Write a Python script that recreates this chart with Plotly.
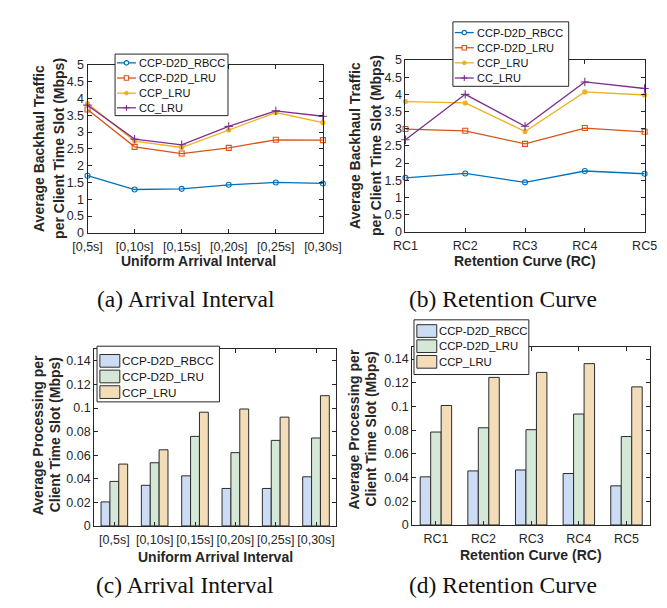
import plotly.graph_objects as go

W, H = 667, 608

# ---------------- data ----------------
interval_labels = ["[0,5s]", "[0,10s]", "[0,15s]", "[0,20s]", "[0,25s]", "[0,30s]"]
rc_labels = ["RC1", "RC2", "RC3", "RC4", "RC5"]

line_series = ["CCP-D2D_RBCC", "CCP-D2D_LRU", "CCP_LRU", "CC_LRU"]
bar_series = ["CCP-D2D_RBCC", "CCP-D2D_LRU", "CCP_LRU"]

# (a) backhaul vs arrival interval
a_rbcc = [1.70, 1.29, 1.31, 1.43, 1.50, 1.47]
a_d2d_lru = [3.67, 2.56, 2.36, 2.53, 2.77, 2.76]
a_ccp_lru = [3.85, 2.73, 2.54, 3.06, 3.58, 3.28]
a_cc_lru = [3.80, 2.79, 2.62, 3.17, 3.63, 3.47]

# (b) backhaul vs retention curve
b_rbcc = [1.57, 1.70, 1.44, 1.77, 1.69]
b_d2d_lru = [2.99, 2.94, 2.56, 3.02, 2.91]
b_ccp_lru = [3.79, 3.75, 2.92, 4.07, 3.98]
b_cc_lru = [2.68, 4.00, 3.07, 4.36, 4.17]

# (c) processing vs arrival interval
c_rbcc = [0.0204, 0.0345, 0.0425, 0.0318, 0.0318, 0.0417]
c_d2d_lru = [0.0378, 0.0536, 0.0760, 0.0622, 0.0726, 0.0746]
c_ccp_lru = [0.0525, 0.0646, 0.0965, 0.0992, 0.0923, 0.1105]

# (d) processing vs retention curve
d_rbcc = [0.0406, 0.0456, 0.0464, 0.0434, 0.0330]
d_d2d_lru = [0.0784, 0.0820, 0.0804, 0.0936, 0.0746]
d_ccp_lru = [0.1008, 0.1245, 0.1287, 0.1361, 0.1165]

backhaul_ticks = [0, 0.5, 1, 1.5, 2, 2.5, 3, 3.5, 4, 4.5, 5]
backhaul_ticktext = ["0", "0.5", "1", "1.5", "2", "2.5", "3", "3.5", "4", "4.5", "5"]
proc_ticks = [0, 0.02, 0.04, 0.06, 0.08, 0.1, 0.12, 0.14]
proc_ticktext = ["0", "0.02", "0.04", "0.06", "0.08", "0.1", "0.12", "0.14"]

# ---------------- styles ----------------
line_colors = ["#0072BD", "#D95319", "#EDB120", "#7E2F8E"]
line_symbols = ["circle-open", "square-open", "circle", "cross-thin-open"]
line_msize = [5, 5, 4, 6]
bar_colors = ["#cbdcf4", "#d5e8d8", "#f3ddb9"]
AX = "#262626"
TICKFONT = dict(family="Liberation Sans, Arial", size=12.5, color=AX)
TITLEFONT = dict(family="Liberation Sans, Arial", size=14, color=AX)
LEGFONT = dict(family="Liberation Sans, Arial", size=11, color="#111111")


def px_x(p):
    return p / W


def px_y(p):
    return 1 - p / H


fig = go.Figure()


def add_lines(series_vals, xaxis, yaxis):
    for i, (name, vals) in enumerate(zip(line_series, series_vals)):
        fig.add_trace(go.Scatter(
            x=list(range(len(vals))), y=vals, name=name, mode="lines+markers",
            line=dict(color=line_colors[i], width=1.3),
            marker=dict(symbol=line_symbols[i], size=line_msize[i], color=line_colors[i],
                        line=dict(color=line_colors[i], width=1.1)),
            xaxis=xaxis, yaxis=yaxis, cliponaxis=False, showlegend=False,
        ))


add_lines([a_rbcc, a_d2d_lru, a_ccp_lru, a_cc_lru], "x", "y")
add_lines([b_rbcc, b_d2d_lru, b_ccp_lru, b_cc_lru], "x2", "y2")


def add_bars(series_vals, xaxis, yaxis):
    for i, (name, vals) in enumerate(zip(bar_series, series_vals)):
        fig.add_trace(go.Bar(
            x=list(range(1, len(vals) + 1)), y=vals, name=name,
            marker=dict(color=bar_colors[i], line=dict(color="#2b2b2b", width=1)),
            xaxis=xaxis, yaxis=yaxis, offsetgroup=str(i), showlegend=False,
        ))


add_bars([c_rbcc, c_d2d_lru, c_ccp_lru], "x3", "y3")
add_bars([d_rbcc, d_d2d_lru, d_ccp_lru], "x4", "y4")

axis_common = dict(showline=True, linecolor=AX, linewidth=1, mirror="ticks",
                   ticks="inside", ticklen=4, tickcolor=AX, tickwidth=1,
                   showgrid=False, zeroline=False, tickfont=TICKFONT)

# panel boxes in pixels: (left, right, top, bottom)
boxes = {
    "a": (68, 316, 51, 223),
    "b": (403, 655, 46, 222),
    "c": (75, 330, 342, 523),
    "d": (410, 661, 340, 522),
}


def dom(b):
    x0, x1, y0, y1 = b
    return [px_x(x0), px_x(x1)], [px_y(y1), px_y(y0)]


xa, ya = dom(boxes["a"])
xb, yb = dom(boxes["b"])
xc, yc = dom(boxes["c"])
xd, yd = dom(boxes["d"])

fig.update_layout(
    xaxis=dict(domain=xa, anchor="y", range=[0, 5], tickvals=list(range(6)),
               ticktext=interval_labels, ticklabelstandoff=2, **axis_common),
    yaxis=dict(domain=ya, anchor="x", range=[0, 5], tickvals=backhaul_ticks,
               ticktext=backhaul_ticktext, **axis_common),
    xaxis2=dict(domain=xb, anchor="y2", range=[0, 4], tickvals=list(range(5)),
                ticktext=rc_labels, ticklabelstandoff=2, **axis_common),
    yaxis2=dict(domain=yb, anchor="x2", range=[0, 5], tickvals=backhaul_ticks,
                ticktext=backhaul_ticktext, **axis_common),
    xaxis3=dict(domain=xc, anchor="y3", range=[0.5, 6.5], tickvals=list(range(1, 7)),
                ticktext=interval_labels, ticklabelstandoff=2, **axis_common),
    yaxis3=dict(domain=yc, anchor="x3", range=[0, 0.15], tickvals=proc_ticks,
                ticktext=proc_ticktext, **axis_common),
    xaxis4=dict(domain=xd, anchor="y4", range=[0.5, 5.5], tickvals=list(range(1, 6)),
                ticktext=rc_labels, ticklabelstandoff=2, **axis_common),
    yaxis4=dict(domain=yd, anchor="x4", range=[0, 0.15], tickvals=proc_ticks,
                ticktext=proc_ticktext, **axis_common),
    barmode="group", bargap=0.34, bargroupgap=0,
    width=W, height=H, margin=dict(l=0, r=0, t=0, b=0),
    paper_bgcolor="white", plot_bgcolor="white", showlegend=False,
)

ann = []
shapes = []


def text(x, y, s, font, angle=0, xanchor="center"):
    ann.append(dict(x=px_x(x), y=px_y(y), xref="paper", yref="paper", text=s,
                    showarrow=False, font=font, textangle=angle,
                    xanchor=xanchor, yanchor="middle"))


def pline(x0, y0, x1, y1, color, width):
    shapes.append(dict(type="line", xref="paper", yref="paper",
                       x0=px_x(x0), y0=px_y(y0), x1=px_x(x1), y1=px_y(y1),
                       line=dict(color=color, width=width)))


def prect(x0, y0, x1, y1, line_color, fill, width=1, kind="rect"):
    shapes.append(dict(type=kind, xref="paper", yref="paper",
                       x0=px_x(x0), y0=px_y(y0), x1=px_x(x1), y1=px_y(y1),
                       line=dict(color=line_color, width=width), fillcolor=fill))


# ---- manual legends (MATLAB style, compact) ----
def line_legend(left, top, right, bottom, row_y):
    prect(left, top, right, bottom, AX, "white", 1)
    for i, name in enumerate(line_series):
        y = row_y[i]
        c = line_colors[i]
        pline(left + 2, y, left + 22, y, c, 1.3)
        mx = left + 12
        sym = line_symbols[i]
        if sym == "circle-open":
            prect(mx - 2.3, y - 2.3, mx + 2.3, y + 2.3, c, "white", 1.1, "circle")
        elif sym == "square-open":
            prect(mx - 2.3, y - 2.3, mx + 2.3, y + 2.3, c, "white", 1.1, "rect")
        elif sym == "circle":
            prect(mx - 1.9, y - 1.9, mx + 1.9, y + 1.9, c, c, 1, "circle")
        else:
            pline(mx - 3, y, mx + 3, y, c, 1.1)
            pline(mx, y - 3, mx, y + 3, c, 1.1)
        text(left + 23, y, name, LEGFONT, xanchor="left")


def bar_legend(left, top, right, bottom, row_y, font):
    prect(left, top, right, bottom, AX, "white", 1)
    for i, name in enumerate(bar_series):
        y = row_y[i]
        prect(left + 3, y - 6.5, left + 24, y + 6.5, "#2b2b2b", bar_colors[i], 1)
        text(left + 24, y, name, font, xanchor="left")


line_legend(97, 40, 216, 103, [49, 64.5, 80, 95])
line_legend(453, 7, 575, 73, [18, 33.5, 49, 64.5])
bar_legend(78, 339, 207, 396, [354, 370, 386],
           dict(LEGFONT, size=11.7))
bar_legend(412, 312, 533, 368, [323.5, 339, 355],
           dict(LEGFONT, size=11.3))

tf = dict(TITLEFONT, weight="bold")
# y titles
text(17, 137, "Average Backhaul Traffic", tf, -90)
text(38, 137, "per Client Time Slot (Mbps)", tf, -90)
text(350, 134, "Average Backhaul Traffic", tf, -90)
text(372, 134, "per Client Time Slot (Mbps)", tf, -90)
text(16, 430, "Average Processing per", tf, -90)
text(34, 430, "Client Time Slot (Mbps)", tf, -90)
text(349, 424, "Average Processing per", tf, -90)
text(367, 424, "Client Time Slot (Mbps)", tf, -90)
# x titles
text(185, 252, "Uniform Arrival Interval", tf)
text(529, 252, "Retention Curve (RC)", tf)
text(203, 555, "Uniform Arrival Interval", tf)
text(535, 553, "Retention Curve (RC)", tf)
# captions
cf = dict(family="Liberation Serif, Times New Roman", size=23.5, color="#111111")
text(172, 291, "(a) Arrival Interval", cf)
text(506, 291, "(b) Retention Curve", cf)
text(171, 583, "(c) Arrival Interval", cf)
text(506, 583, "(d) Retention Curve", cf)

fig.update_layout(annotations=ann, shapes=shapes)
fig.write_html("out.html")
